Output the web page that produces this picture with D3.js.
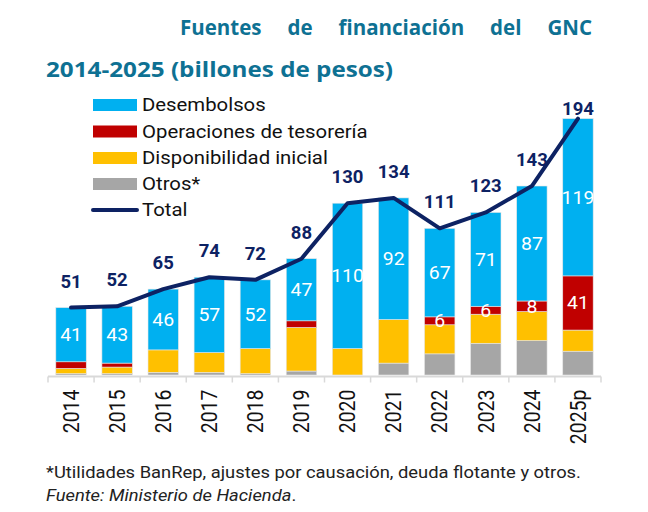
<!DOCTYPE html>
<html>
<head>
<meta charset="utf-8">
<script src="https://cdn.jsdelivr.net/npm/d3@7"></script>
<style>
  html, body { margin: 0; padding: 0; background: #fff; }
  svg { display: block; }
</style>
</head>
<body>
<svg id="chart" width="648" height="512"></svg>
<script>
// ---- Data ----
const years = ["2014","2015","2016","2017","2018","2019","2020","2021","2022","2023","2024","2025p"];
const desembolsos    = [41, 43, 46, 57, 52, 47, 110, 92, 67, 71, 87, 119];
const tesoreria      = [5, 3, 0, 0, 0, 5, 0, 0, 6, 6, 8, 41];
const disponibilidad = [4, 5, 17, 15, 19, 33, 20, 33, 22, 22, 22, 16];
const otros          = [1, 1, 2, 2, 1, 3, 0, 9, 16, 24, 26, 18];
const totals         = [51, 52, 65, 74, 72, 88, 130, 134, 111, 123, 143, 194];

const seriesNames = ["Desembolsos", "Operaciones de tesorería", "Disponibilidad inicial", "Otros*"];
const titleLine1 = "Fuentes de financiación del GNC";
const titleLine2 = "2014-2025 (billones de pesos)";
const footnote1 = "*Utilidades BanRep, ajustes por causación, deuda flotante y otros.";
const footnote2 = "Fuente: Ministerio de Hacienda";

// ---- Styles ----
const colors = {
  "Desembolsos": "#00b0f0",
  "Operaciones de tesorería": "#c00000",
  "Disponibilidad inicial": "#ffc000",
  "Otros*": "#a6a6a6"
};
const lineColor = "#0d2263";
const titleColor = "#0e7193";
const sx = 1.13; // horizontal text stretch seen in the reference

const svg = d3.select("#chart");

// ---- Scales ----
const x = d3.scaleBand().domain(years).range([48, 601]).paddingInner(0.34).paddingOuter(0.17);
const y = d3.scaleLinear().domain([0, 200]).range([375, 375 - 200 * 1.3216]);

// ---- Stack ----
const rows = years.map((yr, i) => ({
  year: yr,
  "Otros*": otros[i],
  "Disponibilidad inicial": disponibilidad[i],
  "Operaciones de tesorería": tesoreria[i],
  "Desembolsos": desembolsos[i]
}));
const stackOrder = ["Otros*", "Disponibilidad inicial", "Operaciones de tesorería", "Desembolsos"];
const stacked = d3.stack().keys(stackOrder)(rows);

const gBars = svg.append("g");
stacked.forEach(layer => {
  gBars.selectAll(null)
    .data(layer)
    .join("rect")
    .attr("x", d => x(d.data.year))
    .attr("width", x.bandwidth())
    .attr("y", d => y(d[1]))
    .attr("height", d => Math.max(0, y(d[0]) - y(d[1])))
    .attr("fill", colors[layer.key])
    .attr("stroke", d => (d[1] - d[0]) > 0 ? "#e6e6e6" : "none")
    .attr("stroke-width", 0.6);
});

// Segment labels
const labelLayers = ["Desembolsos", "Operaciones de tesorería"];
stacked.filter(l => labelLayers.includes(l.key)).forEach(layer => {
  gBars.selectAll(null)
    .data(layer.filter(d => (d[1] - d[0]) >= 6))
    .join("text")
    .attr("transform", d => `translate(${x(d.data.year) + x.bandwidth() / 2},${(y(d[0]) + y(d[1])) / 2}) scale(1.08,1)`)
    .attr("dy", "0.36em")
    .attr("text-anchor", "middle")
    .attr("fill", "#ffffff")
    .attr("font-family", "Roboto, sans-serif")
    .attr("font-size", 18)
    .text(d => d[1] - d[0]);
});

// ---- X axis ----
const gx = svg.append("g").attr("transform", "translate(0,376.5)");
gx.append("line").attr("x1", 48).attr("x2", 601).attr("stroke", "#d9d9d9").attr("stroke-width", 2);
const bounds = years.map(yr => x(yr) - x.step() * x.paddingInner() / 2);
bounds.push(601);
gx.selectAll(".tk").data(bounds).join("line")
  .attr("x1", d => d).attr("x2", d => d)
  .attr("y1", 0).attr("y2", 6)
  .attr("stroke", "#d9d9d9").attr("stroke-width", 1.5);
gx.selectAll(".lbl").data(years).join("text")
  .attr("transform", d => `translate(${x(d) + x.bandwidth() / 2},${13}) rotate(-90) scale(1,1.1)`)
  .attr("text-anchor", "end")
  .attr("dy", "0.36em")
  .attr("font-family", "Roboto, sans-serif")
  .attr("font-size", 19.5)
  .attr("fill", "#111")
  .text(d => d);

// ---- Total line ----
const line = d3.line()
  .x((d, i) => x(years[i]) + x.bandwidth() / 2)
  .y(d => y(d));
svg.append("path")
  .datum(totals)
  .attr("d", line)
  .attr("fill", "none")
  .attr("stroke", lineColor)
  .attr("stroke-width", 4)
  .attr("stroke-linejoin", "round")
  .attr("stroke-linecap", "round");

svg.append("g").selectAll("text").data(totals).join("text")
  .attr("x", (d, i) => x(years[i]) + x.bandwidth() / 2)
  .attr("y", d => Math.max(y(d) - 20, 115))
  .attr("text-anchor", "middle")
  .attr("font-family", "Roboto, sans-serif")
  .attr("font-weight", 700)
  .attr("font-size", 18.5)
  .attr("fill", lineColor)
  .text(d => d);

// ---- Legend ----
const legendY = [105, 131.5, 158, 184, 210];
const gl = svg.append("g");
const legendText = (label, ly) => gl.append("text")
  .attr("transform", `translate(142,${ly}) scale(${sx},1)`)
  .attr("dy", "0.36em")
  .attr("font-family", "Roboto, sans-serif")
  .attr("font-size", 18)
  .attr("fill", "#111")
  .text(label);
seriesNames.forEach((name, i) => {
  gl.append("rect")
    .attr("x", 93).attr("y", legendY[i] - 6)
    .attr("width", 44).attr("height", 12)
    .attr("fill", colors[name]);
  legendText(name, legendY[i]);
});
gl.append("line")
  .attr("x1", 93).attr("x2", 137)
  .attr("y1", legendY[4]).attr("y2", legendY[4])
  .attr("stroke", lineColor).attr("stroke-width", 4).attr("stroke-linecap", "round");
legendText("Total", legendY[4]);

// ---- Title ----
const t1 = svg.append("text")
  .attr("x", 180).attr("y", 34.5)
  .attr("font-family", "'Open Sans', sans-serif")
  .attr("font-weight", 700)
  .attr("font-size", 20.5)
  .attr("fill", titleColor)
  .text(titleLine1);
const natural = t1.node().getComputedTextLength();
const gaps = titleLine1.split(" ").length - 1;
t1.attr("word-spacing", Math.max(0, (592 - 180 - natural) / gaps));

svg.append("text")
  .attr("x", 46).attr("y", 77)
  .attr("font-family", "'Open Sans', sans-serif")
  .attr("font-weight", 700)
  .attr("font-size", 21)
  .attr("fill", titleColor)
  .attr("textLength", 347)
  .attr("lengthAdjust", "spacingAndGlyphs")
  .text(titleLine2);

// ---- Footnotes ----
svg.append("text")
  .attr("transform", "translate(46,478) scale(1.08,1)")
  .attr("font-family", "Roboto, sans-serif")
  .attr("font-size", 17)
  .attr("fill", "#222")
  .text(footnote1);
const f2 = svg.append("text")
  .attr("transform", "translate(46,501) scale(1.08,1)")
  .attr("font-family", "Roboto, sans-serif")
  .attr("font-size", 17)
  .attr("fill", "#222");
f2.append("tspan").attr("font-style", "italic").text(footnote2);
f2.append("tspan").text(".");
</script>
</body>
</html>
